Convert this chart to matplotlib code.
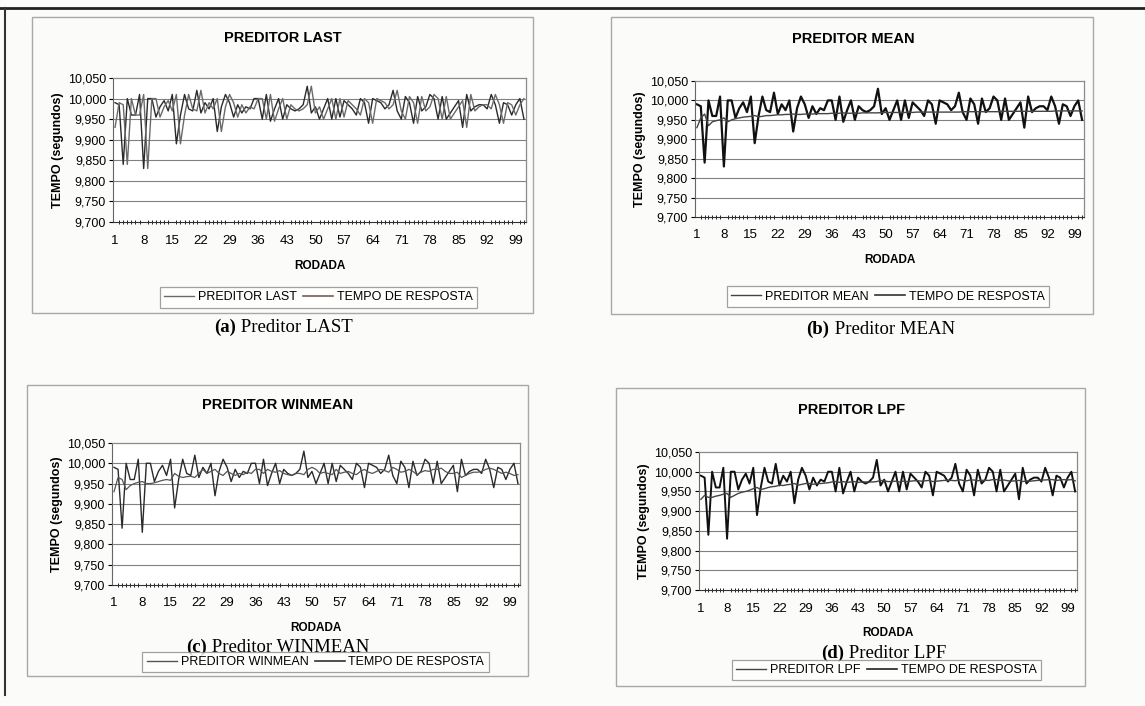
import matplotlib
matplotlib.use('Agg')
import matplotlib.pyplot as plt
from matplotlib.patches import Rectangle
from matplotlib.lines import Line2D
from matplotlib.ticker import FuncFormatter
import numpy as np


''' Dados '''
rodada = list(range(1, 102))
x_tick_labels = list(range(1, 100, 7))
y_ticks = [9.700, 9.750, 9.800, 9.850, 9.900, 9.950, 10.000, 10.050]

tempo_resposta = [
    9.990, 9.985, 9.840, 10.000, 9.960, 9.960, 10.010, 9.830, 10.000, 10.000,
    9.955, 9.980, 9.995, 9.970, 10.010, 9.890, 9.960, 10.010, 9.975, 9.970,
    10.020, 9.965, 9.990, 9.975, 10.000, 9.920, 9.980, 10.010, 9.990, 9.955,
    9.985, 9.965, 9.980, 9.975, 10.000, 10.000, 9.950, 10.010, 9.945, 9.975,
    10.000, 9.950, 9.985, 9.975, 9.970, 9.975, 9.985, 10.030, 9.965, 9.980,
    9.950, 9.975, 10.000, 9.950, 10.000, 9.955, 9.995, 9.985, 9.975, 9.960,
    10.000, 9.990, 9.940, 10.000, 9.995, 9.990, 9.975, 9.985, 10.020, 9.970,
    9.950, 10.005, 9.990, 9.940, 10.005, 9.970, 9.980, 10.010, 10.000, 9.950,
    10.005, 9.950, 9.965, 9.980, 9.995, 9.930, 10.010, 9.970, 9.980, 9.985,
    9.985, 9.975, 10.010, 9.985, 9.940, 9.990, 9.985, 9.960, 9.985, 10.000,
    9.950]

preditor_last = [
    9.930, 9.990, 9.985, 9.840, 10.000, 9.960, 9.960, 10.010, 9.830, 10.000,
    10.000, 9.955, 9.980, 9.995, 9.970, 10.010, 9.890, 9.960, 10.010, 9.975,
    9.970, 10.020, 9.965, 9.990, 9.975, 10.000, 9.920, 9.980, 10.010, 9.990,
    9.955, 9.985, 9.965, 9.980, 9.975, 10.000, 10.000, 9.950, 10.010, 9.945,
    9.975, 10.000, 9.950, 9.985, 9.975, 9.970, 9.975, 9.985, 10.030, 9.965,
    9.980, 9.950, 9.975, 10.000, 9.950, 10.000, 9.955, 9.995, 9.985, 9.975,
    9.960, 10.000, 9.990, 9.940, 10.000, 9.995, 9.990, 9.975, 9.985, 10.020,
    9.970, 9.950, 10.005, 9.990, 9.940, 10.005, 9.970, 9.980, 10.010, 10.000,
    9.950, 10.005, 9.950, 9.965, 9.980, 9.995, 9.930, 10.010, 9.970, 9.980,
    9.985, 9.985, 9.975, 10.010, 9.985, 9.940, 9.990, 9.985, 9.960, 9.985,
    10.000]

preditor_mean = [
    9.930, 9.955, 9.965, 9.935, 9.945, 9.948, 9.950, 9.955, 9.945, 9.950,
    9.953, 9.955, 9.957, 9.958, 9.959, 9.961, 9.958, 9.959, 9.961, 9.961,
    9.962, 9.963, 9.963, 9.964, 9.964, 9.965, 9.964, 9.964, 9.965, 9.965,
    9.965, 9.966, 9.966, 9.966, 9.966, 9.967, 9.967, 9.967, 9.968, 9.967,
    9.967, 9.968, 9.967, 9.968, 9.968, 9.968, 9.968, 9.968, 9.969, 9.969,
    9.969, 9.969, 9.969, 9.969, 9.969, 9.970, 9.969, 9.970, 9.970, 9.970,
    9.970, 9.970, 9.970, 9.970, 9.970, 9.970, 9.970, 9.970, 9.970, 9.971,
    9.971, 9.971, 9.971, 9.971, 9.971, 9.971, 9.971, 9.971, 9.971, 9.972,
    9.972, 9.972, 9.972, 9.972, 9.972, 9.972, 9.972, 9.972, 9.972, 9.972,
    9.972, 9.972, 9.972, 9.973, 9.973, 9.973, 9.973, 9.973, 9.973, 9.973,
    9.973]

preditor_winmean = [
    9.930, 9.965, 9.960, 9.935, 9.945, 9.950, 9.953, 9.955, 9.950, 9.950,
    9.952, 9.955, 9.958, 9.960, 9.958, 9.975, 9.968, 9.965, 9.967, 9.968,
    9.965, 9.975, 9.985, 9.975, 9.980, 9.985, 9.975, 9.970, 9.980, 9.975,
    9.970, 9.975, 9.972, 9.978, 9.975, 9.985, 9.985, 9.975, 9.985, 9.980,
    9.978, 9.982, 9.975, 9.972, 9.970, 9.975, 9.975, 9.972, 9.985, 9.990,
    9.985, 9.975, 9.978, 9.975, 9.972, 9.985, 9.975, 9.978, 9.980, 9.975,
    9.972, 9.980, 9.985, 9.978, 9.975, 9.980, 9.985, 9.982, 9.978, 9.990,
    9.985, 9.978, 9.980, 9.985, 9.980, 9.972, 9.978, 9.982, 9.980, 9.985,
    9.985, 9.988, 9.980, 9.975, 9.975, 9.978, 9.965, 9.970, 9.975, 9.978,
    9.978, 9.980, 9.985, 9.988, 9.985, 9.980, 9.975, 9.978, 9.975, 9.970,
    9.972]

preditor_lpf = [
    9.930, 9.940, 9.935, 9.935, 9.938, 9.940, 9.943, 9.945, 9.935, 9.940,
    9.945, 9.948, 9.950, 9.953, 9.957, 9.960, 9.955, 9.957, 9.960, 9.962,
    9.963, 9.966, 9.965, 9.967, 9.968, 9.970, 9.966, 9.968, 9.970, 9.970,
    9.968, 9.970, 9.970, 9.971, 9.972, 9.974, 9.975, 9.973, 9.975, 9.973,
    9.974, 9.975, 9.973, 9.974, 9.974, 9.974, 9.974, 9.975, 9.978, 9.977,
    9.975, 9.975, 9.976, 9.974, 9.976, 9.975, 9.976, 9.977, 9.977, 9.976,
    9.977, 9.978, 9.975, 9.976, 9.977, 9.978, 9.978, 9.978, 9.977, 9.980,
    9.978, 9.977, 9.979, 9.979, 9.977, 9.978, 9.978, 9.978, 9.980, 9.980,
    9.978, 9.979, 9.977, 9.976, 9.977, 9.978, 9.975, 9.977, 9.976, 9.977,
    9.978, 9.979, 9.979, 9.980, 9.980, 9.978, 9.979, 9.980, 9.979, 9.980,
    9.977]


''' Layout (pixels da imagem original) '''
W, H = 1145, 706
plt.rcParams['font.family'] = ['Liberation Sans', 'DejaVu Sans']

fig = plt.figure(figsize=(W / 100, H / 100), dpi=100)
fig.patch.set_facecolor('#fbfbf9')


def fx(px):
    return px / W


def fy(py):
    return 1 - py / H


def box(x0, y0, x1, y1):
    return [fx(x0), fy(y1), fx(x1) - fx(x0), fy(y0) - fy(y1)]


def virgula(v, pos):
    return f'{v:.3f}'.replace('.', ',')


paineis = [
    dict(frame=(32, 17, 533, 313), plot=(113, 78, 526, 222),
         titulo='PREDITOR LAST', tit_xy=(283, 38), rod_y=266,
         caption=('(a)', ' Preditor LAST'), cap_xy=(283, 327),
         leg=(163, 286, 474, 309), pred=preditor_last, nome='PREDITOR LAST',
         c_pred='#6a6a6a', lw_pred=1.0, c_resp='#2a2a2a', lw_resp=1.0,
         c_leg_resp='#7a5a5a'),
    dict(frame=(611, 17, 1093, 314), plot=(695, 81, 1084, 217),
         titulo='PREDITOR MEAN', tit_xy=(853, 39), rod_y=260,
         caption=('(b)', ' Preditor MEAN'), cap_xy=(880, 329),
         leg=(724, 285, 1052, 308), pred=preditor_mean, nome='PREDITOR MEAN',
         c_pred='#444444', lw_pred=1.0, c_resp='#111111', lw_resp=1.6,
         c_leg_resp='#333333'),
    dict(frame=(27, 385, 528, 676), plot=(112, 443, 520, 585),
         titulo='PREDITOR WINMEAN', tit_xy=(278, 405), rod_y=628,
         caption=('(c)', ' Preditor WINMEAN'), cap_xy=(278, 647),
         leg=(146, 651, 485, 673), pred=preditor_winmean, nome='PREDITOR WINMEAN',
         c_pred='#555555', lw_pred=0.9, c_resp='#2a2a2a', lw_resp=1.0,
         c_leg_resp='#333333'),
    dict(frame=(616, 388, 1085, 686), plot=(699, 452, 1077, 590),
         titulo='PREDITOR LPF', tit_xy=(852, 410), rod_y=633,
         caption=('(d)', ' Preditor LPF'), cap_xy=(883, 653),
         leg=(734, 658, 1039, 682), pred=preditor_lpf, nome='PREDITOR LPF',
         c_pred='#444444', lw_pred=1.0, c_resp='#111111', lw_resp=1.4,
         c_leg_resp='#222222'),
]

for p in paineis:
    # moldura do grafico
    x0, y0, x1, y1 = p['frame']
    fig.add_artist(Rectangle((fx(x0), fy(y1)), fx(x1) - fx(x0), fy(y0) - fy(y1),
                             transform=fig.transFigure, fill=False,
                             edgecolor='#a8a8a8', lw=1.0))

    ax = fig.add_axes(box(*p['plot']))
    ax.set_facecolor('white')
    for ytk in y_ticks[1:-1]:
        ax.axhline(ytk, color='#808080', lw=0.8, zorder=1)
    ax.plot(rodada, p['pred'], color=p['c_pred'], lw=p['lw_pred'], zorder=3)
    ax.plot(rodada, tempo_resposta, color=p['c_resp'], lw=p['lw_resp'], zorder=2)

    ax.set_xlim(0.5, 101.5)
    ax.set_ylim(9.700, 10.050)
    ax.set_yticks(y_ticks)
    ax.yaxis.set_major_formatter(FuncFormatter(virgula))
    ax.set_xticks(x_tick_labels)
    ax.set_xticks(rodada, minor=True)
    ax.tick_params(axis='x', which='major', length=0, pad=9, labelsize=9.5)
    ax.tick_params(axis='x', which='minor', length=3, direction='inout', width=0.6)
    ax.tick_params(axis='y', length=3, direction='out', labelsize=9, pad=2)
    for s in ['top', 'right']:
        ax.spines[s].set_color('#8a8a8a')
        ax.spines[s].set_linewidth(0.9)
    ax.spines['left'].set_color('#666666')
    ax.spines['bottom'].set_color('#333333')
    ax.set_ylabel('TEMPO (segundos)', fontsize=9, fontweight='bold', labelpad=3)

    # titulo, eixo x e legenda da figura
    cx = (p['plot'][0] + p['plot'][2]) / 2
    fig.text(fx(p['tit_xy'][0]), fy(p['tit_xy'][1]), p['titulo'],
             ha='center', va='center', fontsize=10.5, fontweight='bold')
    fig.text(fx(cx), fy(p['rod_y']), 'RODADA', ha='center', va='center',
             fontsize=8.5, fontweight='bold')

    lx0, ly0, lx1, ly1 = p['leg']
    handles = [Line2D([], [], color=p['c_pred'], lw=1.0),
               Line2D([], [], color=p['c_leg_resp'], lw=1.2)]
    leg = fig.legend(handles, [p['nome'], 'TEMPO DE RESPOSTA'], loc='center',
                     bbox_to_anchor=(fx((lx0 + lx1) / 2), fy((ly0 + ly1) / 2)),
                     ncol=2, fontsize=9, frameon=True, fancybox=False,
                     handlelength=2.4, handletextpad=0.3, columnspacing=0.5,
                     borderpad=0.35)
    leg.get_frame().set_edgecolor('#8a8a8a')
    leg.get_frame().set_linewidth(0.9)

    # legenda em Times
    cap = fig.text(fx(p['cap_xy'][0]), fy(p['cap_xy'][1]),
                   p['caption'][0] + p['caption'][1], ha='center', va='center',
                   fontsize=13.5, family='Liberation Serif', alpha=0)
    fig.canvas.draw()
    bb = cap.get_window_extent()
    t1 = fig.text(bb.x0 / fig.bbox.width, fy(p['cap_xy'][1]), p['caption'][0],
                  ha='left', va='center', fontsize=13.5, family='Liberation Serif',
                  fontweight='bold')
    bb1 = t1.get_window_extent()
    fig.text(bb1.x1 / fig.bbox.width, fy(p['cap_xy'][1]), p['caption'][1],
             ha='left', va='center', fontsize=13.5, family='Liberation Serif')

# bordas escuras da digitalizacao
fig.add_artist(Line2D([0, 1], [fy(8), fy(8)], transform=fig.transFigure,
                      color='#222222', lw=2))
fig.add_artist(Line2D([fx(5), fx(5)], [fy(8), fy(695)], transform=fig.transFigure,
                      color='#333333', lw=1.5))

fig.savefig('out.png', dpi=100, facecolor=fig.get_facecolor())
